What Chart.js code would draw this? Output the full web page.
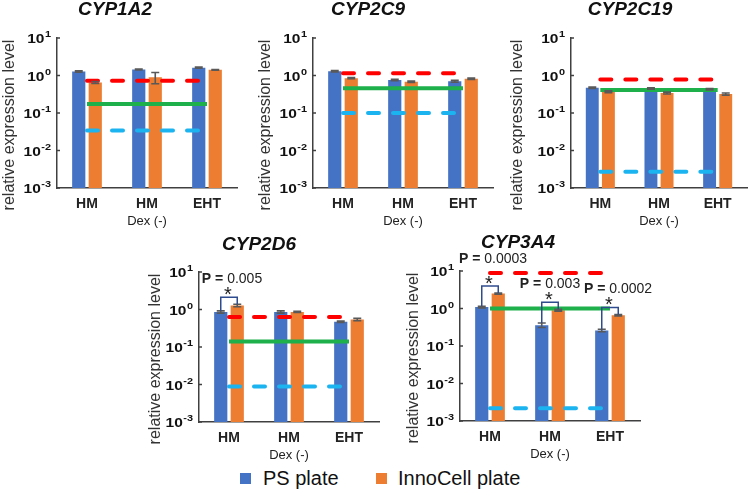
<!DOCTYPE html>
<html>
<head>
<meta charset="utf-8">
<script src="https://cdn.jsdelivr.net/npm/chart.js@4.4.1/dist/chart.umd.min.js"></script>
<style>
  html, body { margin: 0; padding: 0; background: #fff; }
  #wrap { position: relative; width: 750px; height: 492px; overflow: hidden; font-family: "Liberation Sans", Arial, sans-serif; }
  canvas { position: absolute; }
  .legend { position: absolute; top: 466px; left: 0; width: 750px; height: 26px; }
  .legend span { position: absolute; font-size: 20px; color: #111; line-height: 24px; }
  .legend i { position: absolute; width: 11px; height: 11px; top: 7px; }
</style>
</head>
<body>
<div id="wrap">
  <div class="legend">
    <i style="left:240px;background:#4472C4"></i><span style="left:263px">PS plate</span>
    <i style="left:376px;background:#ED7D31"></i><span style="left:398px">InnoCell plate</span>
  </div>
</div>
<script>
// categories
const categories = ['HM', 'HM', 'EHT'];
const subLabel = 'Dex (-)';   // printed under the 2nd category
const yDecades = [-3, -2, -1, 0, 1];

// PS plate / InnoCell plate means and errors, reference lines [red, green, cyan]
const ps1A2 = [1.28, 1.45, 1.62];
const ps1A2Err = [0.05, 0.04, 0.05];
const inno1A2 = [0.65, 0.9, 1.42];
const inno1A2Err = [0.04, 0.3, 0.03];
const ref1A2 = [0.72, 0.175, 0.034];

const ps2C9 = [1.3, 0.76, 0.7];
const ps2C9Err = [0.05, 0.03, 0.04];
const inno2C9 = [0.85, 0.68, 0.82];
const inno2C9Err = [0.03, 0.03, 0.04];
const ref2C9 = [1.15, 0.46, 0.1];

const ps2C19 = [0.47, 0.45, 0.43];
const ps2C19Err = [0.02, 0.02, 0.02];
const inno2C19 = [0.37, 0.34, 0.32];
const inno2C19Err = [0.02, 0.02, 0.02];
const ref2C19 = [0.78, 0.41, 0.0027];

const ps2D6 = [0.86, 0.86, 0.47];
const ps2D6Err = [0.06, 0.06, 0.02];
const inno2D6 = [1.28, 0.86, 0.54];
const inno2D6Err = [0.1, 0.03, 0.04];
const ref2D6 = [0.63, 0.14, 0.0088];

const ps3A4 = [1.09, 0.36, 0.26];
const ps3A4Err = [0.05, 0.05, 0.02];
const inno3A4 = [2.5, 0.9, 0.66];
const inno3A4Err = [0.08, 0.05, 0.03];
const ref3A4 = [8.8, 1.0, 0.0022];

// significance brackets: category index + p value
const sig2D6 = [{ cat: 0, p: '0.005' }];
const sig3A4 = [{ cat: 0, p: '0.0003' }, { cat: 1, p: '0.003' }, { cat: 2, p: '0.0002' }];

const FONT = '"Liberation Sans", Arial, sans-serif';
const BLUE = '#4472C4', ORANGE = '#ED7D31';
const REF_STYLE = [
  { color: '#FF0000', dash: [11, 14] },
  { color: '#1DB04B', dash: [] },
  { color: '#1CB4F0', dash: [11, 14] }
];

// panel layout (page pixels)
const panels = [
  { gene: 'CYP1A2', ps: ps1A2, psErr: ps1A2Err, inno: inno1A2, innoErr: inno1A2Err, ref: ref1A2, sig: [],
    cl: 0, ct: 0, cw: 247, axisX: 57, areaTop: 38, areaW: 180, titleX: 115, titleY: 10, ytX: 10, pLift: [], pShift: [] },
  { gene: 'CYP2C9', ps: ps2C9, psErr: ps2C9Err, inno: inno2C9, innoErr: inno2C9Err, ref: ref2C9, sig: [],
    cl: 255, ct: 0, cw: 246, axisX: 313, areaTop: 38, areaW: 180, titleX: 368, titleY: 10, ytX: 266, pLift: [], pShift: [] },
  { gene: 'CYP2C19', ps: ps2C19, psErr: ps2C19Err, inno: inno2C19, innoErr: inno2C19Err, ref: ref2C19, sig: [],
    cl: 507, ct: 0, cw: 243, axisX: 571, areaTop: 38, areaW: 176, titleX: 630, titleY: 10, ytX: 518, pLift: [], pShift: [] },
  { gene: 'CYP2D6', ps: ps2D6, psErr: ps2D6Err, inno: inno2D6, innoErr: inno2D6Err, ref: ref2D6, sig: sig2D6,
    cl: 145, ct: 230, cw: 244, axisX: 199, areaTop: 272, areaW: 180, titleX: 259, titleY: 245, ytX: 156, pLift: [18], pShift: [3] },
  { gene: 'CYP3A4', ps: ps3A4, psErr: ps3A4Err, inno: inno3A4, innoErr: inno3A4Err, ref: ref3A4, sig: sig3A4,
    cl: 403, ct: 228, cw: 262, axisX: 460, areaTop: 271, areaW: 180, titleX: 518, titleY: 243, ytX: 414, pLift: [27, 18, 18], pShift: [3, 0, 8] }
];
const AREA_H = 150, XAXIS_H = 42;

// text squeezed a little wider, like the original figure
function wideText(ctx, text, px, py, sx) {
  ctx.save();
  ctx.translate(px, py);
  ctx.scale(sx, 1);
  ctx.fillText(text, 0, 0);
  ctx.restore();
}

const decor = {
  id: 'decor',
  afterDatasetsDraw(chart, args, o) {
    const ctx = chart.ctx, y = chart.scales.y;
    ctx.save();
    ctx.strokeStyle = '#595959';
    ctx.lineWidth = 1.6;
    [0, 1].forEach(di => {
      const ds = chart.data.datasets[di];
      chart.getDatasetMeta(di).data.forEach((bar, i) => {
        const t = y.getPixelForValue(ds.data[i] + ds.errors[i]);
        const b = y.getPixelForValue(Math.max(ds.data[i] - ds.errors[i], 0.0011));
        ctx.beginPath();
        ctx.moveTo(bar.x, t); ctx.lineTo(bar.x, b);
        ctx.moveTo(bar.x - 4, t); ctx.lineTo(bar.x + 4, t);
        ctx.moveTo(bar.x - 4, b); ctx.lineTo(bar.x + 4, b);
        ctx.stroke();
      });
    });
    ctx.restore();
  },
  afterDraw(chart, args, o) {
    const ctx = chart.ctx, x = chart.scales.x, y = chart.scales.y;
    const ca = chart.chartArea;
    ctx.save();
    // title
    ctx.fillStyle = '#111';
    ctx.font = 'italic bold 19px ' + FONT;
    ctx.textAlign = 'center';
    ctx.textBaseline = 'middle';
    ctx.fillText(o.gene, o.titleX, o.titleY);
    // y axis title
    ctx.save();
    ctx.translate(o.ytX, ca.top + 87);
    ctx.rotate(-Math.PI / 2);
    ctx.font = '16px ' + FONT;
    ctx.fillStyle = '#333';
    ctx.fillText('relative expression level', 0, 0);
    ctx.restore();
    // decade tick labels 10^n
    const SX = 1.15;
    yDecades.forEach(n => {
      const py = y.getPixelForValue(Math.pow(10, n));
      const exp = String(n);
      const right = ca.left - 6;
      ctx.textAlign = 'left';
      ctx.textBaseline = 'alphabetic';
      ctx.fillStyle = '#111';
      ctx.font = 'bold 9.5px ' + FONT;
      const ew = ctx.measureText(exp).width * SX;
      wideText(ctx, exp, right - ew, py - 1, SX);
      ctx.font = 'bold 13.5px ' + FONT;
      const bw = ctx.measureText('10').width * SX;
      wideText(ctx, '10', right - ew - bw - 0.5, py + 5, SX);
      ctx.strokeStyle = '#404040';
      ctx.lineWidth = 1.5;
      ctx.beginPath(); ctx.moveTo(ca.left, py); ctx.lineTo(ca.left + 3, py); ctx.stroke();
    });
    // sub label under 2nd category
    ctx.font = '13px ' + FONT;
    ctx.fillStyle = '#222';
    ctx.textAlign = 'center';
    ctx.textBaseline = 'middle';
    ctx.fillText(subLabel, x.getPixelForValue(1), ca.bottom + 33);
    // significance brackets
    const m0 = chart.getDatasetMeta(0), m1 = chart.getDatasetMeta(1);
    const d0 = chart.data.datasets[0], d1 = chart.data.datasets[1];
    o.sig.forEach((s, k) => {
      const b0 = m0.data[s.cat], b1 = m1.data[s.cat];
      const t0 = y.getPixelForValue(d0.data[s.cat] + d0.errors[s.cat]);
      const t1 = y.getPixelForValue(d1.data[s.cat] + d1.errors[s.cat]);
      const top = Math.min(t0, t1) - 7;
      ctx.strokeStyle = '#2F4B8F';
      ctx.lineWidth = 1.5;
      ctx.beginPath();
      ctx.moveTo(b0.x, t0); ctx.lineTo(b0.x, top); ctx.lineTo(b1.x, top); ctx.lineTo(b1.x, t1);
      ctx.stroke();
      const cx = (b0.x + b1.x) / 2;
      ctx.fillStyle = '#222';
      ctx.textAlign = 'center';
      ctx.textBaseline = 'alphabetic';
      ctx.font = '20px ' + FONT;
      ctx.fillText('*', cx - 1, top - 8 + 11.5);
      // "P = " bold, value regular
      ctx.textBaseline = 'middle';
      ctx.font = 'bold 14px ' + FONT;
      const head = 'P = ';
      const hw = ctx.measureText(head).width;
      ctx.font = '14px ' + FONT;
      const vw = ctx.measureText(s.p).width;
      const left = x.getPixelForValue(s.cat) + o.pShift[k] - (hw + vw) / 2;
      const py = top - o.pLift[k];
      ctx.textAlign = 'left';
      ctx.font = 'bold 14px ' + FONT;
      ctx.fillText(head, left, py);
      ctx.font = '14px ' + FONT;
      ctx.fillText(s.p, left + hw, py);
    });
    ctx.restore();
  }
};

const wrap = document.getElementById('wrap');
panels.forEach(p => {
  const canvas = document.createElement('canvas');
  const ch = p.areaTop + AREA_H + XAXIS_H - p.ct;
  canvas.width = p.cw;
  canvas.height = ch;
  canvas.style.left = p.cl + 'px';
  canvas.style.top = p.ct + 'px';
  canvas.style.width = p.cw + 'px';
  canvas.style.height = ch + 'px';
  wrap.appendChild(canvas);

  const lineSets = p.ref.map((v, i) => ({
    type: 'line',
    data: categories.map(() => v),
    borderColor: REF_STYLE[i].color,
    borderWidth: 4,
    borderDash: REF_STYLE[i].dash,
    borderCapStyle: REF_STYLE[i].dash.length ? 'round' : 'butt',
    pointRadius: 0,
    fill: false,
    order: 0
  }));

  new Chart(canvas, {
    type: 'bar',
    data: {
      labels: categories,
      datasets: [
        { label: 'PS plate', data: p.ps, errors: p.psErr, backgroundColor: BLUE,
          categoryPercentage: 0.55, barPercentage: 0.8, order: 1 },
        { label: 'InnoCell plate', data: p.inno, errors: p.innoErr, backgroundColor: ORANGE,
          categoryPercentage: 0.55, barPercentage: 0.8, order: 1 }
      ].concat(lineSets)
    },
    options: {
      responsive: false,
      animation: false,
      devicePixelRatio: 1,
      layout: { padding: { top: p.areaTop - p.ct, left: 0, bottom: 0,
                           right: p.cw - (p.axisX - p.cl) - p.areaW } },
      plugins: {
        legend: { display: false },
        tooltip: { enabled: false },
        decor: { gene: p.gene, titleX: p.titleX - p.cl, titleY: p.titleY - p.ct,
                 ytX: p.ytX - p.cl, sig: p.sig, pLift: p.pLift, pShift: p.pShift }
      },
      scales: {
        x: {
          grid: { display: false, drawTicks: false },
          border: { display: true, color: '#404040', width: 1.5 },
          ticks: { color: '#222', padding: 8, font: { family: FONT, size: 14, weight: 'bold' } },
          afterFit: s => { s.height = XAXIS_H; }
        },
        y: {
          type: 'logarithmic',
          min: 0.001,
          max: 10,
          grid: { display: false, drawTicks: false },
          border: { display: true, color: '#404040', width: 1.5 },
          ticks: { display: false },
          afterFit: s => { s.width = p.axisX - p.cl; }
        }
      }
    },
    plugins: [decor]
  });
});
</script>
</body>
</html>
